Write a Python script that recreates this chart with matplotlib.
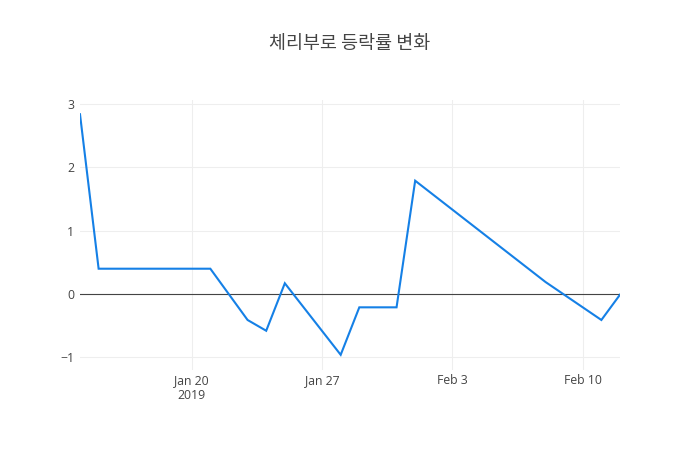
import matplotlib
matplotlib.use("Agg")
import matplotlib.pyplot as plt
import datetime as dt

dates = ["2019-01-14", "2019-01-15", "2019-01-21", "2019-01-23", "2019-01-24",
         "2019-01-25", "2019-01-28", "2019-01-29", "2019-01-31", "2019-02-01",
         "2019-02-08", "2019-02-11", "2019-02-12"]
values = [2.84, 0.40, 0.40, -0.41, -0.58, 0.17, -0.96, -0.21, -0.21, 1.79,
          0.19, -0.41, -0.01]
xtick_dates = ["2019-01-20", "2019-01-27", "2019-02-03", "2019-02-10"]
xtick_labels = ["Jan 20\n2019", "Jan 27", "Feb 3", "Feb 10"]
ytick_vals = [-1, 0, 1, 2, 3]
ytick_labels = ["\u22121", "0", "1", "2", "3"]
title = "체리부로 등락률 변화"

x = [dt.datetime.strptime(d, "%Y-%m-%d") for d in dates]
xt = [dt.datetime.strptime(d, "%Y-%m-%d") for d in xtick_dates]

plt.rcParams['font.family'] = ['Open Sans', 'Noto Sans CJK KR', 'DejaVu Sans']

fig = plt.figure(figsize=(7, 4.5), dpi=100)
ax = fig.add_axes([80/700, 80/450, 540/700, 270/450])

ax.plot(x, values, color='#1580e6', lw=1.5, zorder=3, solid_joinstyle='miter')
ax.axhline(0, color='#444444', lw=0.8, zorder=2)

ax.set_xlim(x[0], x[-1])
ax.set_ylim(-1.2, 3.065)

ax.set_xticks(xt)
ax.set_xticklabels(xtick_labels, linespacing=1.15)
ax.set_yticks(ytick_vals)
ax.set_yticklabels(ytick_labels)
ax.grid(True, color='#eeeeee', lw=0.8, zorder=0)
for s in ax.spines.values():
    s.set_visible(False)
ax.tick_params(length=0, labelsize=8.8, colors='#444444')
ax.tick_params(axis='x', pad=3)
ax.tick_params(axis='y', pad=4)

fig.text(350/700, 1 - 44/450, title, ha='center', va='center', fontsize=13.3,
         color='#444444', family=['Noto Sans CJK KR', 'DejaVu Sans'])

fig.savefig("out.png", dpi=100, facecolor='white')
